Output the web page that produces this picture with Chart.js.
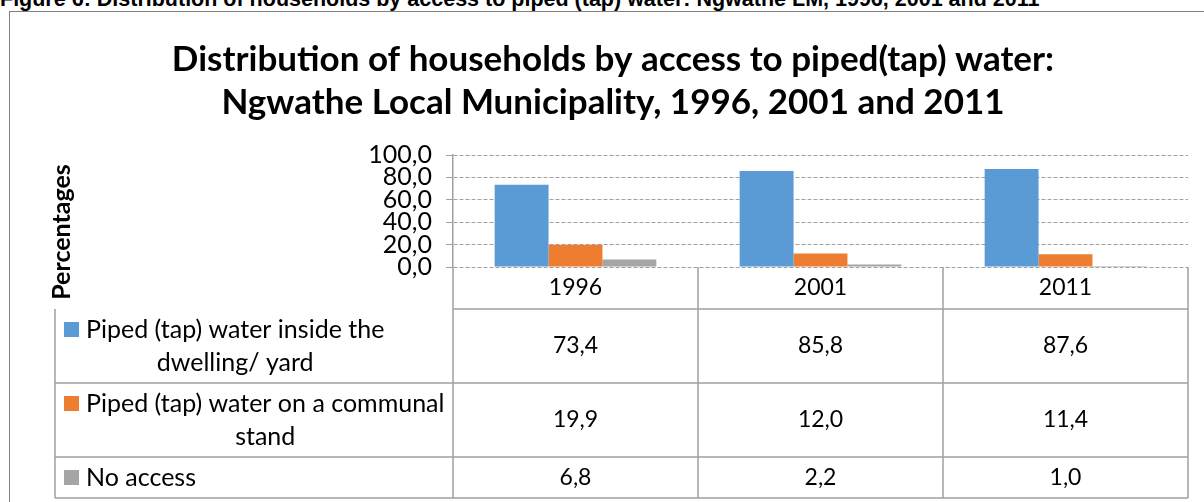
<!DOCTYPE html>
<html>
<head>
<meta charset="utf-8">
<script src="https://cdn.jsdelivr.net/npm/chart.js@4.4.1/dist/chart.umd.min.js"></script>
<style>
    html, body { margin: 0; padding: 0; background: #fff; overflow: hidden; }
    #page { position: relative; width: 1204px; height: 502px; overflow: hidden; }
    #caption {
        position: absolute; left: 0; top: -13px; white-space: nowrap;
        font: bold 21.5px "Liberation Sans", Arial, sans-serif; color: #000;
    }
    #frame {
        position: absolute; left: 9px; top: 11px; width: 1300px; height: 600px;
        border: 1px solid #808080;
    }
    #chart { position: absolute; left: 0; top: 0; }
</style>
</head>
<body>
<div id="page">
    <div id="caption">Figure 6: Distribution of households by access to piped (tap) water: Ngwathe LM, 1996, 2001 and 2011</div>
    <div id="frame"></div>
    <canvas id="chart" width="1204" height="502"></canvas>
</div>
<script>
const titleLines = [
    'Distribution of households by access to piped(tap) water:',
    'Ngwathe Local Municipality, 1996, 2001 and 2011'
];
const yAxisTitle = 'Percentages';
const years = ['1996', '2001', '2011'];
const seriesLabels = [
    ['Piped (tap) water inside the', 'dwelling/ yard'],
    ['Piped (tap) water on a communal', 'stand'],
    ['No access']
];
const insideDwelling = [73.4, 85.8, 87.6];
const communalStand = [19.9, 12.0, 11.4];
const noAccess = [6.8, 2.2, 1.0];
const seriesColors = ['#5B9BD5', '#ED7D31', '#A5A5A5'];
const yMin = 0;
const yMax = 100;
const yStep = 20;

const FONT = 'Lato, "Open Sans", sans-serif';
const lineColor = '#a0a0a0';

// table rows under the plot (y of each horizontal rule)
const rowEdges = [267, 309, 383, 457, 498];
const legendLeft = 55;

function fmt(v) {
    return v.toFixed(1).replace('.', ',');
}

const tablePlugin = {
    id: 'dataTable',
    afterDraw(chart) {
        const ctx = chart.ctx;
        const area = chart.chartArea;
        const x = chart.scales.x;
        const half = (area.right - area.left) / years.length / 2;

        ctx.save();

        // chart title
        ctx.fillStyle = '#000';
        ctx.textAlign = 'center';
        ctx.textBaseline = 'middle';
        ctx.font = 'bold 35px ' + FONT;
        ctx.fillText(titleLines[0], 613, 60);
        ctx.fillText(titleLines[1], 613, 103);

        // y axis title
        ctx.save();
        ctx.translate(62, 232);
        ctx.rotate(-Math.PI / 2);
        ctx.font = 'bold 25px ' + FONT;
        ctx.fillText(yAxisTitle, 0, 0);
        ctx.restore();

        // table grid
        ctx.strokeStyle = lineColor;
        ctx.lineWidth = 1.5;
        ctx.beginPath();
        for (let i = 1; i < rowEdges.length; i++) {
            const left = i === 1 ? area.left : legendLeft;
            ctx.moveTo(left, rowEdges[i]);
            ctx.lineTo(area.right, rowEdges[i]);
        }
        ctx.moveTo(legendLeft, rowEdges[1]);
        ctx.lineTo(legendLeft, rowEdges[4]);
        years.forEach((y, i) => {
            const cx = x.getPixelForValue(i);
            ctx.moveTo(cx - half, rowEdges[0]);
            ctx.lineTo(cx - half, rowEdges[4]);
        });
        ctx.moveTo(area.right, rowEdges[0]);
        ctx.lineTo(area.right, rowEdges[4]);
        ctx.stroke();

        // category labels
        ctx.font = '23px ' + FONT;
        ctx.textAlign = 'center';
        years.forEach((y, i) => {
            ctx.fillText(y, x.getPixelForValue(i), (rowEdges[0] + rowEdges[1]) / 2);
        });

        // series rows
        chart.data.datasets.forEach((ds, r) => {
            const top = rowEdges[r + 1];
            const bottom = rowEdges[r + 2];
            const mid = (top + bottom) / 2;
            const lines = seriesLabels[r];
            const lh = 33;
            const firstY = mid - (lines.length - 1) * lh / 2;

            ctx.fillStyle = ds.backgroundColor;
            ctx.fillRect(64, firstY - 7.5, 15, 15);

            ctx.fillStyle = '#000';
            ctx.font = '25px ' + FONT;
            const widths = lines.map(t => ctx.measureText(t).width);
            const blockCenter = 86 + Math.max(...widths) / 2;
            lines.forEach((t, k) => {
                ctx.fillText(t, blockCenter, firstY + k * lh);
            });

            ctx.font = '23px ' + FONT;
            ds.data.forEach((v, i) => {
                ctx.fillText(fmt(v), x.getPixelForValue(i), mid);
            });
        });

        ctx.restore();
    }
};

new Chart(document.getElementById('chart'), {
    type: 'bar',
    data: {
        labels: years,
        datasets: [
            { label: seriesLabels[0].join(' '), data: insideDwelling, backgroundColor: seriesColors[0] },
            { label: seriesLabels[1].join(' '), data: communalStand, backgroundColor: seriesColors[1] },
            { label: seriesLabels[2].join(' '), data: noAccess, backgroundColor: seriesColors[2] }
        ]
    },
    options: {
        responsive: false,
        animation: false,
        categoryPercentage: 0.66,
        barPercentage: 1.0,
        layout: { padding: { left: 363, right: 16, top: 155, bottom: 235 } },
        plugins: {
            legend: { display: false },
            title: { display: false },
            tooltip: { enabled: false }
        },
        scales: {
            x: { display: false },
            y: {
                min: yMin,
                max: yMax,
                afterFit: s => { s.width = 90; },
                ticks: {
                    stepSize: yStep,
                    autoSkip: false,
                    padding: 14,
                    color: '#000',
                    font: { family: FONT, size: 25, lineHeight: 0.9 },
                    callback: v => fmt(v)
                },
                grid: { color: lineColor, tickLength: 7, tickColor: lineColor, lineWidth: 1 },
                border: { display: true, color: lineColor, width: 1.5, dash: [4, 2] }
            }
        }
    },
    plugins: [tablePlugin]
});
</script>
</body>
</html>
